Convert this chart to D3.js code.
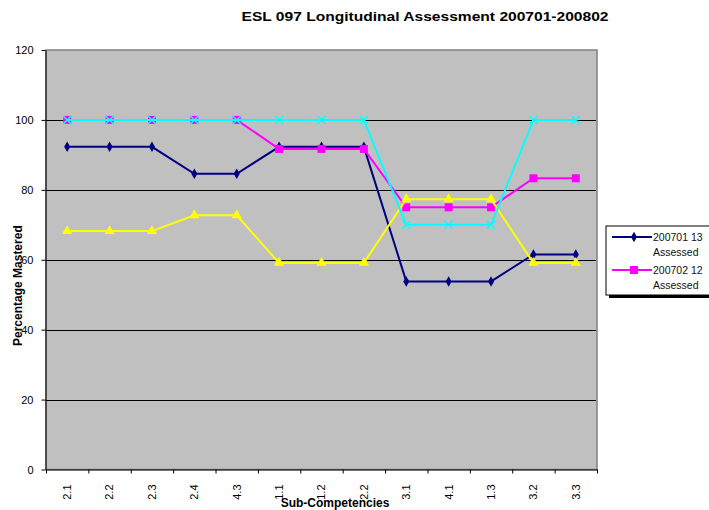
<!DOCTYPE html>
<html>
<head>
<meta charset="utf-8">
<script src="https://cdn.jsdelivr.net/npm/d3@7"></script>
<style>
body { margin: 0; background: #fff; }
svg { font-family: "Liberation Sans", Arial, sans-serif; }
</style>
</head>
<body>
<svg class="chart" width="709" height="510"></svg>
<script>
var categories = ["2.1","2.2","2.3","2.4","4.3","1.1","1.2","2.2","3.1","4.1","1.3","3.2","3.3"];
var seriesNames = ["200701 13 Assessed","200702 12 Assessed","Series 3","Series 4"];
var blueVals    = [92.3,92.3,92.3,84.6,84.6,92.3,92.3,92.3,53.8,53.8,53.8,61.5,61.5];
var magentaVals = [100,100,100,100,100,91.7,91.7,91.7,75,75,75,83.3,83.3];
var yellowVals  = [68.2,68.2,68.2,72.7,72.7,59.1,59.1,59.1,77.3,77.3,77.3,59.1,59.1];
var cyanVals    = [100,100,100,100,100,100,100,100,70,70,70,100,100];
var yTicks = [0,20,40,60,80,100,120];

var series = [
  {name: seriesNames[0], values: blueVals, color: "#000080", marker: "diamond"},
  {name: seriesNames[1], values: magentaVals, color: "#FF00FF", marker: "square"},
  {name: seriesNames[2], values: yellowVals, color: "#FFFF00", marker: "triangle"},
  {name: seriesNames[3], values: cyanVals, color: "#00FFFF", marker: "x"}
];

var svg = d3.select(".chart");
var plotLeft = 46, plotRight = 597, plotTop = 50, plotBottom = 469.5;

var x = d3.scaleBand().domain(d3.range(categories.length)).range([plotLeft, plotRight]);
var xb = d3.scaleLinear().domain([0, categories.length]).range([plotLeft, plotRight]);
var y = d3.scaleLinear().domain([0, 120]).range([plotBottom, plotTop]);

// plot background
svg.append("rect")
  .attr("x", plotLeft).attr("y", plotTop)
  .attr("width", plotRight - plotLeft).attr("height", plotBottom - plotTop)
  .attr("fill", "#C0C0C0")
  .attr("stroke", "#808080").attr("stroke-width", 1.5);

// gridlines
svg.append("g").selectAll("line")
  .data(yTicks.filter(function(d){ return d > 0 && d < 120; }))
  .enter().append("line")
  .attr("x1", plotLeft).attr("x2", plotRight - 1)
  .attr("y1", function(d){ return Math.round(y(d)) + 0.5; })
  .attr("y2", function(d){ return Math.round(y(d)) + 0.5; })
  .attr("stroke", "#000").attr("stroke-width", 1);

// y axis
var yAxis = svg.append("g")
  .attr("transform", "translate(" + (plotLeft - 0.5) + ",0)")
  .call(d3.axisLeft(y).tickValues(yTicks).tickSize(4).tickPadding(8).tickSizeOuter(0));
yAxis.selectAll("text").attr("font-size", "11px").attr("fill", "#000").style("font-family", "Liberation Sans, Arial, sans-serif");
yAxis.selectAll("line, path").attr("stroke", "#000");

// x axis (ticks between categories)
var xAxis = svg.append("g")
  .attr("transform", "translate(0," + plotBottom + ")")
  .call(d3.axisBottom(xb).ticks(categories.length).tickFormat("").tickSize(4).tickSizeOuter(0));
xAxis.selectAll("line, path").attr("stroke", "#000");

var xLabels = svg.append("g")
  .attr("transform", "translate(0," + plotBottom + ")")
  .call(d3.axisBottom(x).tickSize(0).tickFormat(function(i){ return categories[i]; }));
xLabels.select(".domain").remove();
xLabels.selectAll("text")
  .attr("transform", "rotate(-90)")
  .attr("x", -15).attr("y", 0).attr("dy", "0.35em")
  .attr("text-anchor", "end")
  .attr("font-size", "11px").attr("fill", "#000")
  .style("font-family", "Liberation Sans, Arial, sans-serif");

// lines and markers
var line = d3.line()
  .x(function(d, i){ return x(i) + x.bandwidth() / 2; })
  .y(function(d){ return y(d); });

function markerPath(type) {
  if (type == "diamond") return d3.symbol().type(d3.symbolDiamond).size(32)();
  if (type == "square") return d3.symbol().type(d3.symbolSquare).size(64)();
  if (type == "triangle") return d3.symbol().type(d3.symbolTriangle).size(46)();
  return "M-4,-4L4,4M-4,4L4,-4";
}

series.forEach(function(s) {
  var g = svg.append("g");
  g.append("path")
    .attr("d", line(s.values))
    .attr("fill", "none")
    .attr("stroke", s.color)
    .attr("stroke-width", 2);
  g.selectAll(".pt")
    .data(s.values)
    .enter().append("path")
    .attr("transform", function(d, i){ return "translate(" + (x(i) + x.bandwidth() / 2) + "," + y(d) + ")"; })
    .attr("d", markerPath(s.marker))
    .attr("fill", s.marker == "x" ? "none" : s.color)
    .attr("stroke", s.marker == "x" ? s.color : "none")
    .attr("stroke-width", 1.5);
});

// titles
svg.append("text")
  .attr("x", 425).attr("y", 20.5)
  .attr("text-anchor", "middle")
  .attr("font-size", "13px").attr("font-weight", "bold")
  .attr("textLength", 367).attr("lengthAdjust", "spacingAndGlyphs")
  .text("ESL 097 Longitudinal Assessment 200701-200802");

svg.append("text")
  .attr("transform", "translate(21.5,346) rotate(-90)")
  .attr("text-anchor", "start")
  .attr("font-size", "12px").attr("font-weight", "bold")
  .text("Percentage Mastered");

svg.append("text")
  .attr("x", 335).attr("y", 507)
  .attr("text-anchor", "middle")
  .attr("font-size", "12px").attr("font-weight", "bold")
  .text("Sub-Competencies");

// legend (cut off at the right edge like the original)
var lg = svg.append("g").attr("transform", "translate(606,226)");
lg.append("rect").attr("x", 3).attr("y", 3).attr("width", 120).attr("height", 69).attr("fill", "#000");
lg.append("rect").attr("x", 0).attr("y", 0).attr("width", 120).attr("height", 69)
  .attr("fill", "#fff").attr("stroke", "#000").attr("stroke-width", 1);

var legendRows = [0, 1];
legendRows.forEach(function(k) {
  var s = series[k];
  var ly = 11 + k * 33;
  lg.append("line").attr("x1", 6).attr("x2", 46).attr("y1", ly).attr("y2", ly)
    .attr("stroke", s.color).attr("stroke-width", 2);
  lg.append("path").attr("transform", "translate(28," + ly + ")")
    .attr("d", markerPath(s.marker)).attr("fill", s.color);
  var parts = s.name.split(" ");
  lg.append("text").attr("x", 47).attr("y", ly + 4)
    .attr("font-size", "10.5px").attr("fill", "#111")
    .text(parts[0] + " " + parts[1]);
  lg.append("text").attr("x", 47).attr("y", ly + 19)
    .attr("font-size", "10.5px").attr("fill", "#111")
    .text(parts[2]);
});
</script>
</body>
</html>
